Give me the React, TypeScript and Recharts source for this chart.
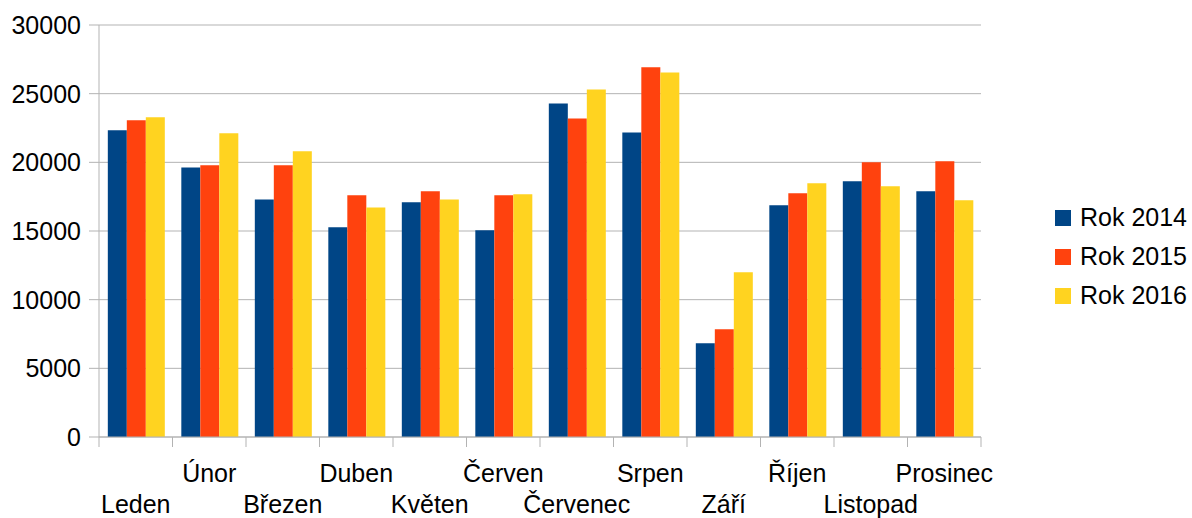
import React from 'react';
import { BarChart, Bar, XAxis, YAxis, CartesianGrid, Legend } from 'recharts';

const months = ['Leden', 'Únor', 'Březen', 'Duben', 'Květen', 'Červen', 'Červenec', 'Srpen', 'Září', 'Říjen', 'Listopad', 'Prosinec'];
const rok2014 = [22330, 19630, 17300, 15270, 17090, 15050, 24290, 22180, 6820, 16870, 18620, 17890];
const rok2015 = [23060, 19780, 19780, 17600, 17890, 17600, 23200, 26930, 7840, 17740, 20000, 20070];
const rok2016 = [23280, 22110, 20800, 16720, 17300, 17670, 25310, 26550, 11990, 18470, 18250, 17230];
const yTicks = [0, 5000, 10000, 15000, 20000, 25000, 30000];

const data = months.map((m, i) => ({ name: m, r14: rok2014[i], r15: rok2015[i], r16: rok2016[i] }));

const FONT = '"Liberation Sans", Arial, sans-serif';
const GRID = '#b3b3b3';
const PLOT_W = 882;
const HALF = PLOT_W / months.length / 2;

const MonthTick = (props: any) => {
  const { x, y, index, payload } = props;
  const last = index === months.length - 1;
  return (
    <g>
      <line x1={x - HALF} x2={x - HALF} y1={y} y2={y + 10} stroke={GRID} />
      {last && <line x1={x + HALF} x2={x + HALF} y1={y} y2={y + 10} stroke={GRID} />}
      <text x={x} y={y + (index % 2 === 1 ? 45 : 76)} textAnchor="middle" fill="#000" fontSize={25} fontFamily={FONT}>
        {payload.value}
      </text>
    </g>
  );
};

const LegendBox = (props: any) => {
  const { payload } = props;
  return (
    <div style={{ fontFamily: FONT, fontSize: 25, color: '#000' }}>
      {payload.map((p: any) => (
        <div key={p.value} style={{ display: 'flex', alignItems: 'center', height: 39 }}>
          <span style={{ width: 16, height: 16, background: p.color, display: 'inline-block', marginRight: 9 }} />
          <span>{p.value}</span>
        </div>
      ))}
    </div>
  );
};

export default function App() {
  return (
    <div style={{ position: 'absolute', left: 0, top: 0, background: '#fff' }}>
      <BarChart
        width={1192}
        height={518}
        data={data}
        margin={{ top: 25, right: 211, bottom: 0, left: 0 }}
        barCategoryGap="12%"
        barGap={0}
      >
        <CartesianGrid vertical={false} stroke={GRID} />
        <XAxis
          dataKey="name"
          height={81}
          interval={0}
          tickLine={false}
          tickSize={0}
          tickMargin={0}
          axisLine={{ stroke: GRID }}
          tick={<MonthTick />}
        />
        <YAxis
          width={99}
          domain={[0, 30000]}
          ticks={yTicks}
          tickSize={10}
          tickMargin={8}
          axisLine={{ stroke: GRID }}
          tickLine={{ stroke: GRID }}
          tick={{ fill: '#000', fontSize: 25, fontFamily: FONT }}
        />
        <YAxis
          yAxisId="right"
          orientation="right"
          width={0}
          domain={[0, 30000]}
          tick={false}
          tickLine={false}
          axisLine={{ stroke: GRID }}
        />
        <Legend
          layout="vertical"
          content={<LegendBox />}
          wrapperStyle={{ position: 'absolute', left: 1055, top: 198, width: 137, height: 0, overflow: 'visible' }}
        />
        <Bar dataKey="r14" name="Rok 2014" fill="#004586" isAnimationActive={false} />
        <Bar dataKey="r15" name="Rok 2015" fill="#ff420e" isAnimationActive={false} />
        <Bar dataKey="r16" name="Rok 2016" fill="#ffd320" isAnimationActive={false} />
      </BarChart>
    </div>
  );
}
